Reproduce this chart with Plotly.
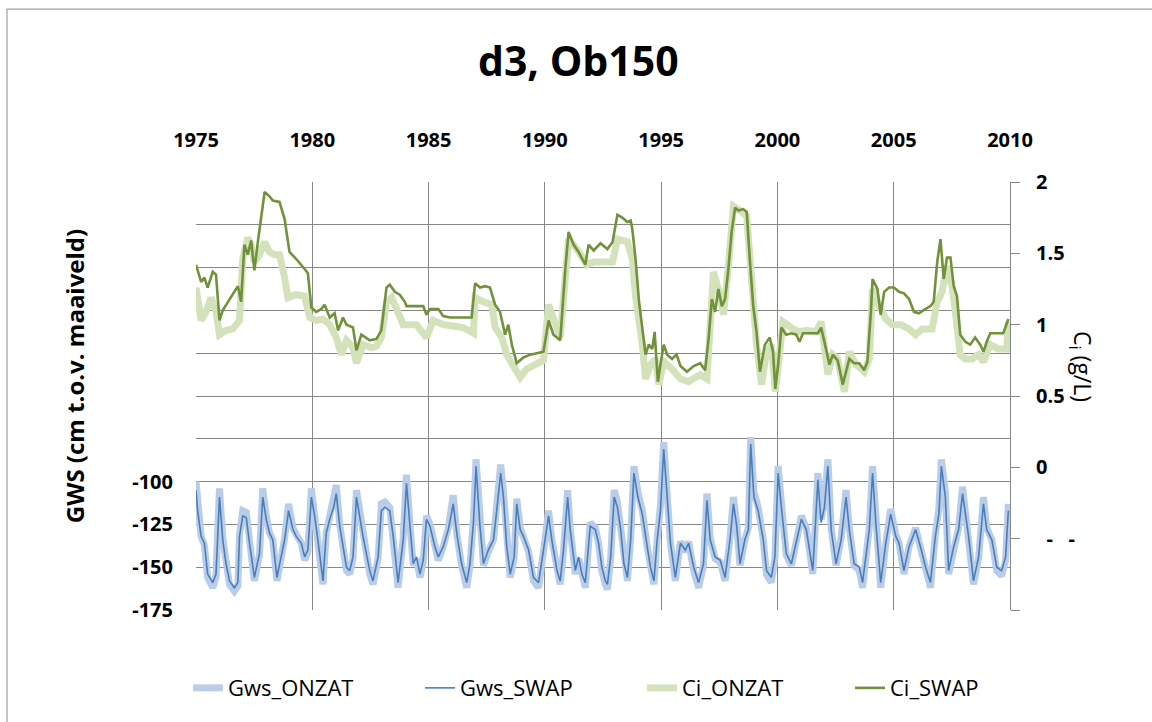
import plotly.graph_objects as go

# Groundwater level (GWS, cm below surface) - time in decimal years
gws_t = [
    1975.00, 1975.07, 1975.22, 1975.36, 1975.50, 1975.72, 1975.86, 1975.93, 1976.01, 1976.15,
    1976.29, 1976.44, 1976.65, 1976.80, 1976.87, 1977.01, 1977.16, 1977.30, 1977.51, 1977.73,
    1977.87, 1978.02, 1978.16, 1978.30, 1978.48, 1978.66, 1978.81, 1978.98, 1979.17, 1979.31,
    1979.53, 1979.67, 1979.81, 1979.96, 1980.10, 1980.24, 1980.46, 1980.60, 1980.75, 1980.92,
    1981.03, 1981.18, 1981.32, 1981.47, 1981.61, 1981.75, 1981.90, 1982.04, 1982.18, 1982.47,
    1982.61, 1982.83, 1982.97, 1983.12, 1983.33, 1983.48, 1983.69, 1983.91, 1984.05, 1984.20,
    1984.34, 1984.48, 1984.63, 1984.77, 1984.91, 1985.06, 1985.27, 1985.42, 1985.63, 1985.85,
    1986.06, 1986.21, 1986.42, 1986.64, 1986.78, 1986.93, 1987.04, 1987.21, 1987.36, 1987.57,
    1987.79, 1987.93, 1988.10, 1988.22, 1988.36, 1988.51, 1988.68, 1988.79, 1988.94, 1989.08,
    1989.30, 1989.51, 1989.73, 1989.94, 1990.16, 1990.30, 1990.52, 1990.66, 1990.80, 1990.98,
    1991.09, 1991.31, 1991.45, 1991.59, 1991.74, 1991.95, 1992.17, 1992.31, 1992.45, 1992.60,
    1992.69, 1992.83, 1992.98, 1993.12, 1993.26, 1993.40, 1993.55, 1993.69, 1993.83, 1994.00,
    1994.19, 1994.40, 1994.54, 1994.69, 1994.83, 1994.97, 1995.11, 1995.26, 1995.40, 1995.61,
    1995.83, 1996.04, 1996.18, 1996.40, 1996.61, 1996.82, 1996.97, 1997.11, 1997.32, 1997.54,
    1997.75, 1997.96, 1998.11, 1998.25, 1998.39, 1998.60, 1998.75, 1998.85, 1998.99, 1999.17,
    1999.39, 1999.53, 1999.74, 1999.89, 2000.03, 2000.17, 2000.38, 2000.60, 2000.81, 2001.03,
    2001.24, 2001.52, 2001.74, 2001.88, 2002.02, 2002.17, 2002.31, 2002.52, 2002.74, 2002.95,
    2003.09, 2003.30, 2003.52, 2003.66, 2003.80, 2003.95, 2004.09, 2004.23, 2004.44, 2004.66,
    2004.87, 2005.09, 2005.23, 2005.44, 2005.66, 2005.94, 2006.15, 2006.37, 2006.58, 2006.79,
    2006.94, 2007.05, 2007.22, 2007.36, 2007.58, 2007.79, 2007.96, 2008.08, 2008.22, 2008.43,
    2008.65, 2008.86, 2009.00, 2009.22, 2009.43, 2009.64, 2009.81, 2009.93,
]

gws_swap = [
    -105, -117, -132, -136, -154, -159, -154, -132, -109, -134,
    -148, -158, -162, -159, -132, -120, -121, -136, -156, -142,
    -109, -122, -130, -134, -156, -144, -134, -117, -128, -132,
    -136, -144, -140, -109, -120, -134, -158, -130, -122, -115,
    -107, -126, -138, -150, -152, -144, -109, -120, -132, -152,
    -158, -144, -117, -115, -117, -132, -159, -134, -101, -126,
    -148, -144, -154, -146, -122, -126, -138, -144, -138, -128,
    -113, -130, -148, -159, -148, -124, -91, -126, -148, -140,
    -134, -117, -95, -109, -138, -154, -144, -113, -128, -132,
    -140, -156, -159, -140, -120, -134, -152, -158, -140, -109,
    -128, -152, -144, -154, -159, -126, -128, -136, -150, -158,
    -160, -144, -109, -115, -128, -148, -156, -134, -95, -109,
    -119, -138, -150, -158, -134, -117, -81, -109, -136, -156,
    -136, -140, -136, -150, -159, -148, -111, -134, -144, -146,
    -156, -134, -113, -126, -148, -134, -128, -78, -109, -117,
    -134, -152, -156, -144, -95, -115, -142, -148, -136, -122,
    -128, -152, -99, -124, -115, -91, -128, -148, -134, -109,
    -128, -148, -150, -159, -144, -128, -95, -124, -159, -136,
    -119, -132, -136, -152, -138, -128, -138, -150, -159, -132,
    -119, -91, -109, -152, -138, -128, -107, -119, -132, -158,
    -144, -113, -128, -134, -150, -152, -144, -117,
]

gws_onzat = [
    -100, -115, -132, -137, -156, -162, -156, -130, -104, -133,
    -149, -160, -164, -161, -131, -117, -118, -136, -158, -143,
    -104, -120, -130, -134, -158, -145, -133, -113, -127, -131,
    -136, -146, -141, -104, -118, -134, -160, -130, -120, -112,
    -102, -125, -138, -152, -154, -145, -105, -118, -132, -154,
    -160, -145, -113, -112, -115, -132, -162, -133, -96, -125,
    -149, -145, -156, -147, -120, -125, -138, -146, -138, -127,
    -108, -130, -149, -162, -149, -122, -87, -125, -149, -141,
    -134, -114, -90, -106, -138, -156, -145, -110, -127, -132,
    -141, -158, -162, -141, -117, -134, -154, -160, -141, -105,
    -127, -154, -145, -156, -162, -124, -127, -136, -152, -160,
    -163, -145, -105, -112, -127, -149, -158, -133, -91, -106,
    -117, -138, -152, -160, -133, -114, -77, -106, -136, -158,
    -135, -141, -135, -152, -162, -149, -107, -133, -145, -147,
    -158, -133, -109, -125, -149, -134, -127, -74, -106, -115,
    -134, -154, -159, -145, -91, -112, -143, -149, -136, -120,
    -127, -154, -95, -122, -112, -87, -127, -149, -133, -105,
    -127, -149, -152, -162, -145, -127, -91, -122, -162, -136,
    -116, -131, -136, -154, -138, -127, -138, -152, -162, -131,
    -116, -87, -106, -154, -138, -127, -103, -116, -132, -160,
    -145, -109, -127, -134, -152, -155, -146, -113,
]

# Chloride concentration Ci (g/L), SWAP model
ci_swap_t = [
    1975.00, 1975.22, 1975.36, 1975.50, 1975.72, 1975.86, 1976.01, 1976.15, 1976.80, 1976.94,
    1977.08, 1977.23, 1977.37, 1977.51, 1977.66, 1977.80, 1977.95, 1978.16, 1978.30, 1978.59,
    1978.81, 1979.02, 1979.31, 1979.67, 1979.81, 1979.96, 1980.17, 1980.39, 1980.53, 1980.75,
    1980.96, 1981.11, 1981.32, 1981.47, 1981.75, 1981.90, 1982.11, 1982.47, 1982.76, 1982.97,
    1983.19, 1983.33, 1983.55, 1983.76, 1983.98, 1984.05, 1984.77, 1984.91, 1985.06, 1985.42,
    1985.63, 1985.92, 1986.85, 1987.00, 1987.21, 1987.43, 1987.64, 1987.86, 1988.07, 1988.29,
    1988.43, 1988.58, 1988.79, 1989.08, 1989.37, 1989.94, 1990.16, 1990.37, 1990.66, 1990.88,
    1991.02, 1991.24, 1991.45, 1991.74, 1991.88, 1992.10, 1992.39, 1992.69, 1992.91, 1993.12,
    1993.33, 1993.55, 1993.69, 1993.76, 1993.90, 1994.05, 1994.19, 1994.33, 1994.47, 1994.62,
    1994.72, 1994.86, 1994.97, 1995.11, 1995.26, 1995.47, 1995.66, 1995.83, 1996.11, 1996.40,
    1996.68, 1996.89, 1997.04, 1997.18, 1997.32, 1997.46, 1997.61, 1997.75, 1997.89, 1998.03,
    1998.18, 1998.32, 1998.53, 1998.68, 1998.82, 1998.96, 1999.10, 1999.25, 1999.46, 1999.67,
    1999.81, 1999.91, 2000.03, 2000.17, 2000.38, 2000.60, 2000.81, 2000.95, 2001.10, 2001.52,
    2001.74, 2001.88, 2002.09, 2002.24, 2002.38, 2002.59, 2002.81, 2002.95, 2003.09, 2003.30,
    2003.52, 2003.73, 2003.87, 2004.02, 2004.09, 2004.30, 2004.44, 2004.59, 2004.80, 2005.01,
    2005.23, 2005.44, 2005.66, 2005.87, 2006.08, 2006.37, 2006.58, 2006.72, 2006.87, 2007.01,
    2007.15, 2007.29, 2007.44, 2007.58, 2007.72, 2007.86, 2008.08, 2008.29, 2008.50, 2008.72,
    2008.86, 2009.00, 2009.15, 2009.43, 2009.71, 2009.93,
]

ci_swap = [
    1.42, 1.30, 1.33, 1.26, 1.37, 1.35, 1.03, 1.10, 1.27, 1.16,
    1.56, 1.49, 1.59, 1.38, 1.58, 1.74, 1.93, 1.90, 1.87, 1.86,
    1.74, 1.51, 1.46, 1.39, 1.36, 1.12, 1.09, 1.11, 1.14, 1.05,
    1.08, 0.96, 1.05, 1.00, 0.98, 0.82, 0.93, 0.89, 0.90, 0.96,
    1.26, 1.28, 1.23, 1.21, 1.16, 1.13, 1.13, 1.07, 1.11, 1.11,
    1.06, 1.05, 1.05, 1.29, 1.26, 1.27, 1.26, 1.14, 1.09, 0.93,
    1.00, 0.86, 0.73, 0.77, 0.79, 0.81, 1.03, 0.93, 0.89, 1.39,
    1.65, 1.56, 1.51, 1.42, 1.56, 1.52, 1.57, 1.53, 1.58, 1.77,
    1.75, 1.72, 1.73, 1.67, 1.46, 1.16, 0.97, 0.79, 0.86, 0.83,
    0.95, 0.60, 0.72, 0.86, 0.79, 0.76, 0.79, 0.71, 0.67, 0.71,
    0.73, 0.68, 0.90, 1.18, 1.09, 1.25, 1.13, 1.18, 1.39, 1.65,
    1.82, 1.80, 1.81, 1.79, 1.44, 1.13, 0.95, 0.67, 0.86, 0.91,
    0.81, 0.55, 0.72, 0.98, 0.93, 0.94, 0.93, 0.88, 0.94, 0.94,
    0.94, 0.98, 0.83, 0.72, 0.79, 0.75, 0.58, 0.67, 0.76, 0.73,
    0.73, 0.68, 0.74, 1.09, 1.32, 1.25, 1.07, 1.23, 1.26, 1.26,
    1.23, 1.22, 1.18, 1.09, 1.08, 1.11, 1.13, 1.16, 1.44, 1.60,
    1.32, 1.47, 1.47, 1.27, 1.20, 0.93, 0.88, 0.86, 0.91, 0.86,
    0.81, 0.88, 0.94, 0.94, 0.94, 1.04,
]

# Chloride concentration Ci (g/L), ONZAT model
ci_onzat_t = [
    1975.00, 1975.22, 1975.43, 1975.65, 1975.86, 1976.01, 1976.29, 1976.58, 1976.87, 1977.01,
    1977.23, 1977.37, 1977.51, 1977.73, 1977.95, 1978.16, 1978.38, 1978.59, 1978.81, 1978.95,
    1979.31, 1979.67, 1979.89, 1980.17, 1980.46, 1980.75, 1981.03, 1981.25, 1981.47, 1981.75,
    1981.90, 1982.18, 1982.54, 1982.76, 1982.97, 1983.19, 1983.41, 1983.62, 1983.91, 1984.48,
    1984.91, 1985.20, 1985.63, 1986.06, 1986.49, 1986.93, 1987.00, 1987.36, 1987.72, 1987.86,
    1988.15, 1988.36, 1988.72, 1988.94, 1989.22, 1989.66, 1989.94, 1990.16, 1990.37, 1990.66,
    1990.88, 1991.02, 1991.38, 1991.81, 1992.10, 1992.41, 1992.91, 1993.12, 1993.55, 1993.76,
    1993.90, 1994.19, 1994.33, 1994.54, 1994.76, 1994.90, 1995.11, 1995.47, 1995.83, 1996.18,
    1996.68, 1996.97, 1997.11, 1997.25, 1997.46, 1997.68, 1997.89, 1998.11, 1998.39, 1998.68,
    1998.89, 1999.10, 1999.32, 1999.53, 1999.74, 1999.91, 2000.10, 2000.24, 2000.67, 2000.95,
    2001.24, 2001.67, 2001.88, 2002.17, 2002.38, 2002.59, 2002.88, 2003.09, 2003.38, 2003.73,
    2003.95, 2004.09, 2004.37, 2004.66, 2004.94, 2005.30, 2005.66, 2005.94, 2006.23, 2006.65,
    2006.87, 2007.08, 2007.29, 2007.51, 2007.65, 2007.86, 2008.08, 2008.36, 2008.65, 2008.86,
    2009.15, 2009.50, 2009.86, 2009.93,
]

ci_onzat = [
    1.26, 1.03, 1.09, 1.19, 1.09, 0.93, 0.96, 0.97, 1.03, 1.46,
    1.61, 1.56, 1.44, 1.49, 1.58, 1.51, 1.49, 1.49, 1.33, 1.19,
    1.21, 1.20, 1.05, 1.03, 1.04, 1.00, 0.91, 0.79, 0.89, 0.84,
    0.73, 0.86, 0.84, 0.85, 0.91, 1.16, 1.19, 1.12, 1.00, 1.00,
    0.91, 1.03, 1.00, 0.99, 0.98, 0.94, 1.19, 1.16, 1.14, 0.98,
    0.91, 0.79, 0.68, 0.63, 0.69, 0.73, 0.75, 1.14, 1.03, 0.91,
    1.33, 1.60, 1.53, 1.42, 1.44, 1.44, 1.44, 1.60, 1.58, 1.46,
    1.20, 0.86, 0.62, 0.72, 0.76, 0.58, 0.74, 0.69, 0.62, 0.60,
    0.65, 0.62, 1.02, 1.37, 1.25, 1.07, 1.41, 1.83, 1.80, 1.76,
    1.32, 0.86, 0.58, 0.81, 0.86, 0.53, 0.81, 1.02, 0.97, 0.95,
    0.96, 0.95, 1.02, 0.65, 0.79, 0.76, 0.53, 0.81, 0.72, 0.67,
    0.76, 1.25, 1.13, 1.04, 1.00, 1.00, 0.97, 0.93, 0.97, 0.97,
    1.16, 1.23, 1.41, 1.27, 1.09, 0.79, 0.76, 0.76, 0.79, 0.74,
    0.86, 0.83, 0.83, 1.02,
]

year_ticks = [1975, 1980, 1985, 1990, 1995, 2000, 2005, 2010]
gws_ticks = [-175, -150, -125, -100]
gws_grid_extra = [-75, -50, -25, 0, 25, 50, 75]
ci_ticks = [-0.5, 0, 0.5, 1, 1.5, 2]
ci_labels = ["\u00a0\u00a0-\u00a0\u00a0\u00a0-", "0", "0.5", "1", "1.5", "2"]
ci_tick_extra = [-1]

FONT = "Open Sans"
GRID = "#878787"

fig = go.Figure()
fig.add_trace(go.Scatter(x=gws_t, y=gws_onzat, name="Gws_ONZAT", mode="lines",
                         line=dict(color="#b9cde8", width=7), legend="legend"))
fig.add_trace(go.Scatter(x=gws_t, y=gws_swap, name="Gws_SWAP", mode="lines",
                         line=dict(color="#4a7ebb", width=1.6), legend="legend2"))
fig.add_trace(go.Scatter(x=ci_onzat_t, y=ci_onzat, name="Ci_ONZAT", mode="lines",
                         line=dict(color="#d3e2ba", width=7), yaxis="y2", legend="legend3"))
fig.add_trace(go.Scatter(x=ci_swap_t, y=ci_swap, name="Ci_SWAP", mode="lines",
                         line=dict(color="#71923a", width=2.6), yaxis="y2", legend="legend4"))

tick_font = dict(family=FONT, size=20, weight="bold", color="black")


def legend_box(x_px):
    # one legend entry per box, placed along the bottom of the chart
    return dict(orientation="h", xref="container", x=x_px / 1152, xanchor="left",
                yref="container", y=0.047, yanchor="middle",
                font=dict(family=FONT, size=22, color="black"),
                bgcolor="rgba(0,0,0,0)")


fig.update_layout(
    width=1152, height=722,
    margin=dict(l=196, r=142, t=182, b=112, autoexpand=False),
    paper_bgcolor="white", plot_bgcolor="white",
    font=dict(family=FONT, color="black"),
    title=dict(text="d3, Ob150", x=0.502, xanchor="center", y=0.914, yanchor="middle",
               font=dict(family=FONT, size=41, weight="bold", color="black")),
    xaxis=dict(range=[1975, 2010], side="top", tickvals=year_ticks,
               ticktext=[str(v) for v in year_ticks],
               showgrid=True, gridcolor=GRID, gridwidth=1, zeroline=False,
               showline=False, ticks="", ticklabelstandoff=30, tickfont=tick_font),
    yaxis=dict(range=[-175, 75], tickvals=gws_ticks,
               ticktext=[str(v) for v in gws_ticks],
               showgrid=True, gridcolor=GRID, gridwidth=1, zeroline=False,
               minor=dict(tickvals=gws_grid_extra, showgrid=True, gridcolor=GRID,
                          gridwidth=1, ticks=""),
               showline=False, ticks="", ticklabelstandoff=22, tickfont=tick_font),
    yaxis2=dict(range=[-1, 2], overlaying="y", side="right", tickvals=ci_ticks,
                ticktext=ci_labels, showgrid=False, zeroline=False,
                showline=True, linecolor=GRID, linewidth=1,
                ticks="outside", ticklen=9, tickcolor=GRID, ticklabelstandoff=12,
                minor=dict(tickvals=ci_tick_extra, ticks="outside", ticklen=9,
                           tickcolor=GRID, showgrid=False),
                tickfont=tick_font),
    legend=legend_box(188),
    legend2=legend_box(420),
    legend3=legend_box(642),
    legend4=legend_box(850),
    showlegend=True,
)

# Axis titles
fig.add_annotation(text="GWS (cm t.o.v. maaiveld)", xref="paper", yref="paper",
                   x=-0.171, y=0.547, textangle=-90, showarrow=False,
                   font=dict(family=FONT, size=24, weight="bold", color="black"))
fig.add_annotation(text="C<sub>i</sub> (g/L)", xref="paper", yref="paper",
                   x=1.111, y=0.568, textangle=90, showarrow=False,
                   font=dict(family=FONT, size=23, color="black"))

# Chart frame
fig.add_shape(type="rect", xref="paper", yref="paper",
              x0=-0.2322, x1=1.3, y0=-0.35, y1=1.404,
              line=dict(color="#8a8a8a", width=1), fillcolor="rgba(0,0,0,0)", layer="below")

fig.write_html("out.html")
